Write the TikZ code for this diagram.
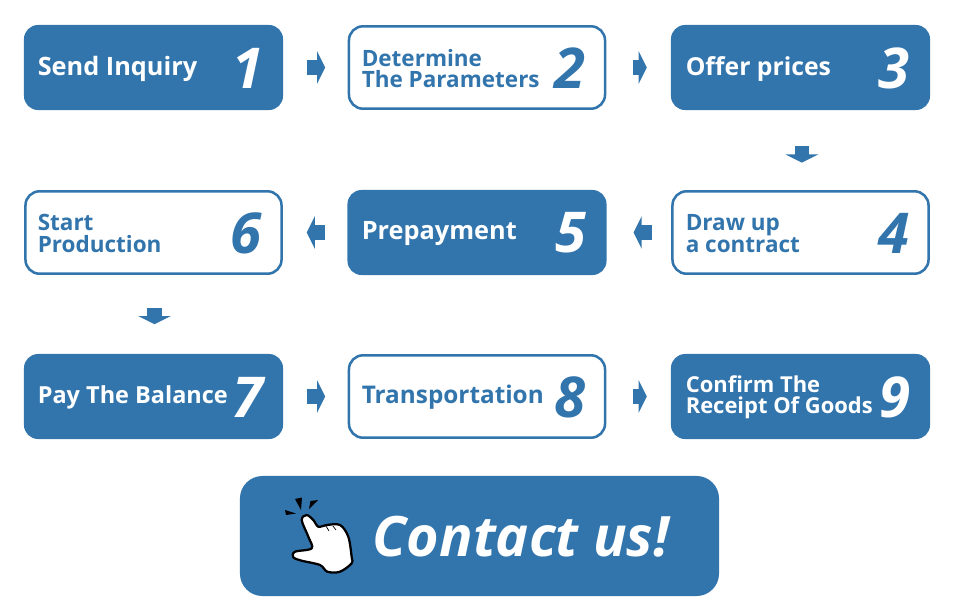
\documentclass[tikz,border=0pt]{standalone}
\usepackage{fontspec}
\setmainfont{Open Sans}
\usepackage{tikz}
\usetikzlibrary{arrows.meta}
\definecolor{stepblue}{HTML}{3275AD}
\newcommand{\sized}[1]{\fontsize{#1}{15.3}\selectfont\bfseries}
\tikzset{
  filledbox/.style={rounded corners=10pt, fill=stepblue, minimum width=6.475cm, minimum height=2.125cm},
  hollowbox/.style={draw=stepblue, line width=1.8pt, rounded corners=10pt, fill=white, minimum width=6.4cm, minimum height=2.06cm},
  steptext/.style={anchor=west, align=left, inner sep=0pt},
  stepnum/.style={inner sep=0pt, font=\fontsize{40}{40}\selectfont\bfseries\itshape},
  blockarrow/.style={-{Triangle[length=5.8pt, width=23pt]}, line width=10.5pt, stepblue},
  sparkmark/.style={fill=black}
}
\begin{document}
\begin{tikzpicture}[x=0.025cm, y=-0.025cm]
  \useasboundingbox (0,0) rectangle (960,614);
  % first row
  \node[filledbox] (send) at (153.5,67.5) {};
  \node[hollowbox] (param) at (477,67.5) {};
  \node[filledbox] (offer) at (800.5,67.5) {};
  \node[steptext, white, font=\sized{18}] (sendtxt) at (37.5,68.5) {Send Inquiry};
  \node[steptext, stepblue, font=\sized{16}] (paramtxt) at (361.5,68.5) {Determine\\The Parameters};
  \node[steptext, white, font=\sized{17.6}] (offertxt) at (685.5,68.5) {Offer prices};
  \node[stepnum, white] (num1) at (248,68) {1};
  \node[stepnum, stepblue] (num2) at (569.5,68) {2};
  \node[stepnum, white] (num3) at (894,68) {3};
  % second row
  \node[hollowbox] (start) at (153.5,232.5) {};
  \node[filledbox] (prepay) at (477,232.5) {};
  \node[hollowbox] (draft) at (800.5,232.5) {};
  \node[steptext, stepblue, font=\sized{16}] (starttxt) at (37.5,233.5) {Start\\Production};
  \node[steptext, white, font=\sized{18}] (prepaytxt) at (361.5,233.5) {Prepayment};
  \node[steptext, stepblue, font=\sized{16}] (drafttxt) at (685.5,233.5) {Draw up\\a contract};
  \node[stepnum, stepblue] (num6) at (246,233) {6};
  \node[stepnum, white] (num5) at (571,233) {5};
  \node[stepnum, stepblue] (num4) at (894,233) {4};
  % third row
  \node[filledbox] (balance) at (153.5,396.5) {};
  \node[hollowbox] (trans) at (477,396.5) {};
  \node[filledbox] (confirm) at (800.5,396.5) {};
  \node[steptext, white, font=\sized{16.7}] (balancetxt) at (37.5,397.5) {Pay The Balance};
  \node[steptext, stepblue, font=\sized{17.3}] (transtxt) at (361.5,397.5) {Transportation};
  \node[steptext, white, font=\sized{15.6}] (confirmtxt) at (685.5,397) {Confirm The\\Receipt Of Goods};
  \node[stepnum, white] (num7) at (248,397) {7};
  \node[stepnum, stepblue] (num8) at (570,397) {8};
  \node[stepnum, white] (num9) at (895,397) {9};
  % arrows
  \draw[blockarrow, shorten <=17pt, shorten >=16pt] (send) -- (param);
  \draw[blockarrow, shorten <=19pt, shorten >=17pt] (param) -- (offer);
  \draw[blockarrow, shorten <=25.5pt, shorten >=19.5pt] ([xshift=1pt]offer.south) -- ([xshift=1pt]draft.north);
  \draw[blockarrow, shorten <=14pt, shorten >=19pt] (draft) -- (prepay);
  \draw[blockarrow, shorten <=16pt, shorten >=17pt] (prepay) -- (start);
  \draw[blockarrow, shorten <=23.5pt, shorten >=21pt] ([xshift=0.7pt]start.south) -- ([xshift=0.7pt]balance.north);
  \draw[blockarrow, shorten <=17pt, shorten >=16pt] (balance) -- (trans);
  \draw[blockarrow, shorten <=19pt, shorten >=17pt] (trans) -- (confirm);
  % contact button
  \node[rounded corners=16pt, fill=stepblue, minimum width=11.975cm, minimum height=3cm] (contact) at (479.5,536) {};
  \node[inner sep=0pt, white, font=\fontsize{39.6}{40}\selectfont\bfseries\itshape] (contacttxt) at (521,536.5) {Contact us!};
  % hand
  \draw[line width=1.6pt, fill=white, line join=round]
    plot[smooth cycle, tension=0.55] coordinates {(306.7,515) (301.7,520) (308.3,536.7) (311.7,548.3) (295,551.7) (293.3,557.3) (301.7,560.7) (320,565) (327.3,571.7) (340,571.7) (351.7,563.3) (351.7,557.3) (348.3,536.7) (340,525) (326.7,525) (318.3,526.7) (313.3,520)};
  \draw[line width=0.5pt] (326,526) -- (329,531) (333,526) -- (336,530);
  \fill[sparkmark] (285,510) -- (296,513.5) -- (286,515) -- cycle;
  \fill[sparkmark] (295,499) -- (302,497.5) -- (301,510) -- cycle;
  \fill[sparkmark] (309,509) -- (310.5,501) -- (318,500) -- cycle;
\end{tikzpicture}
\end{document}
